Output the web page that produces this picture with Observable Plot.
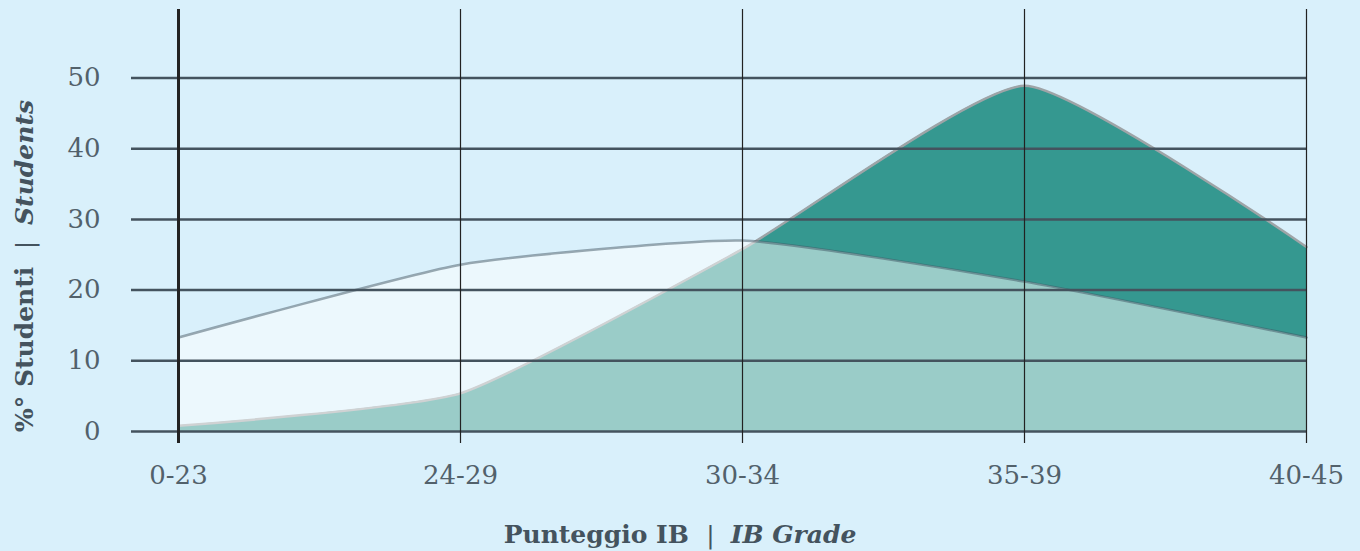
<!DOCTYPE html>
<html>
<head>
<meta charset="utf-8">
<script src="https://cdn.jsdelivr.net/npm/d3@7"></script>
<script src="https://cdn.jsdelivr.net/npm/@observablehq/plot@0.6"></script>
<style>
  html, body { margin: 0; padding: 0; background: #d9f0fb; }
  #chart svg { display: block; }
</style>
</head>
<body>
<div id="chart"></div>
<script>
// Categories (IB grade bands)
const grades = ["0-23", "24-29", "30-34", "35-39", "40-45"];
// Light series (white overlay)
const lightValues = [13.3, 23.6, 27.0, 21.2, 13.3];
// Teal series
const tealValues = [0.8, 5.4, 25.8, 48.9, 26.1];
// Y tick labels
const yTicks = [0, 10, 20, 30, 40, 50];

const light = grades.map((g, i) => ({grade: g, value: lightValues[i]}));
const teal = grades.map((g, i) => ({grade: g, value: tealValues[i]}));

const curve = "cardinal";
const tension = 0.5;

const chart = Plot.plot({
  width: 1360,
  height: 551,
  marginLeft: 131,
  marginRight: 54,
  marginTop: 9,
  marginBottom: 108,
  style: {background: "#d9f0fb", fontFamily: "'DejaVu Serif', serif"},
  x: {type: "point", domain: grades, range: [177, 1306], padding: 0, axis: null},
  y: {domain: [0, 50], range: [431, 77.5], axis: null},
  marks: [
    Plot.areaY(teal, {x: "grade", y: "value", curve, tension, fill: "#359890"}),
    Plot.lineY(teal, {x: "grade", y: "value", curve, tension, stroke: "#9ea4a7", strokeWidth: 2.5}),
    Plot.areaY(light, {x: "grade", y: "value", curve, tension, fill: "white", fillOpacity: 0.5}),
    Plot.lineY(light, {x: "grade", y: "value", curve, tension, stroke: "#3f5663", strokeOpacity: 0.5, strokeWidth: 2.5}),
    Plot.ruleY(yTicks, {stroke: "#44535e", strokeWidth: 2.5}),
    Plot.ruleX(grades, {stroke: "#222", strokeWidth: d => d === grades[0] ? 3 : 1.2}),
    Plot.axisY(yTicks, {anchor: "left", tickSize: 0, tickPadding: 31, fontSize: 26, fill: "#52616b", label: null}),
    Plot.axisX(grades, {anchor: "bottom", tickSize: 0, tickPadding: 22, fontSize: 26, fill: "#52616b", label: null})
  ]
});

document.getElementById("chart").append(chart);

// Axis titles with mixed upright / italic styling
const svg = d3.select(chart);
const xTitle = svg.append("text")
  .attr("x", 680).attr("y", 543)
  .attr("text-anchor", "middle")
  .attr("fill", "#44535e")
  .attr("font-family", "'DejaVu Serif', serif")
  .attr("font-size", 25)
  .attr("xml:space", "preserve");
xTitle.append("tspan").attr("font-weight", "bold").text("Punteggio IB\u00a0 ");
xTitle.append("tspan").attr("font-weight", "normal").text("|\u00a0 ");
xTitle.append("tspan").attr("font-weight", "bold").attr("font-style", "italic").text("IB Grade");

const yTitle = svg.append("text")
  .attr("transform", "translate(33,266) rotate(-90)")
  .attr("text-anchor", "middle")
  .attr("fill", "#44535e")
  .attr("font-family", "'DejaVu Serif', serif")
  .attr("font-size", 25);
yTitle.append("tspan").attr("font-weight", "bold").text("%° Studenti\u00a0 ");
yTitle.append("tspan").attr("font-weight", "normal").text("|\u00a0 ");
yTitle.append("tspan").attr("font-weight", "bold").attr("font-style", "italic").text("Students");
</script>
</body>
</html>
